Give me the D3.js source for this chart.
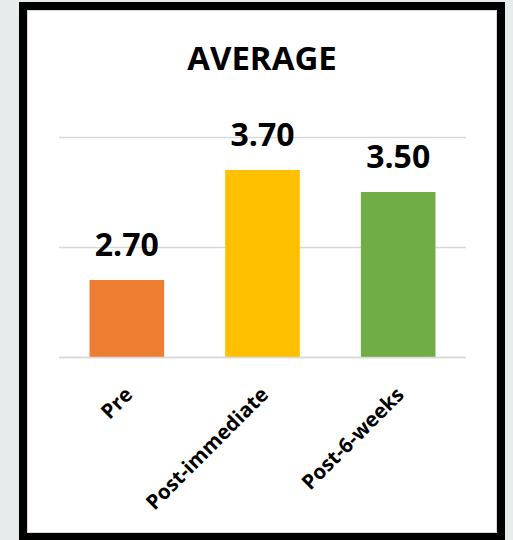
<!DOCTYPE html>
<html>
<head>
<meta charset="utf-8">
<script src="https://cdn.jsdelivr.net/npm/d3@7/dist/d3.min.js"></script>
<style>
  html, body { margin: 0; padding: 0; background: #e7ebec; }
  svg { display: block; }
  text { font-family: "Open Sans", "Noto Sans", sans-serif; font-weight: bold; fill: #000; }
</style>
</head>
<body>
<script>
const title = "AVERAGE";
const categories = ["Pre", "Post-immediate", "Post-6-weeks"];
const values = [2.70, 3.70, 3.50];
const colors = ["#ED7D31", "#FFC000", "#70AD47"];
const yTicks = [2, 3, 4];
const yDomain = [2, 4];

const W = 513, H = 540;
const svg = d3.select("body").append("svg").attr("width", W).attr("height", H);

svg.append("rect").attr("x", 0).attr("y", 0).attr("width", W).attr("height", H).attr("fill", "#e7ebec");
svg.append("rect").attr("x", 19).attr("y", 2).attr("width", 486).attr("height", 560).attr("fill", "#000");
svg.append("rect").attr("x", 27.5).attr("y", 10.5).attr("width", 469).attr("height", 522)
  .attr("fill", "#fff").attr("stroke", "#d9d9d9").attr("stroke-width", 1);

const plot = { left: 59, right: 466, top: 137, bottom: 357 };

const x = d3.scaleBand().domain(categories).range([plot.left, plot.right])
  .paddingInner(0.45).paddingOuter(0.225);
const y = d3.scaleLinear().domain(yDomain).range([plot.bottom, plot.bottom - 220]);

// gridlines
svg.append("g").selectAll("line").data(yTicks).join("line")
  .attr("x1", plot.left).attr("x2", plot.right)
  .attr("y1", d => Math.round(y(d)) + 0.5).attr("y2", d => Math.round(y(d)) + 0.5)
  .attr("stroke", "#d9d9d9").attr("stroke-width", 1.5);

// bars
svg.append("g").selectAll("rect").data(values).join("rect")
  .attr("x", (d, i) => x(categories[i]))
  .attr("width", x.bandwidth())
  .attr("y", d => y(d))
  .attr("height", d => y(yDomain[0]) - y(d))
  .attr("fill", (d, i) => colors[i]);

// baseline redraw over bars
svg.append("line").attr("x1", plot.left).attr("x2", plot.right)
  .attr("y1", Math.round(y(yDomain[0])) + 0.5).attr("y2", Math.round(y(yDomain[0])) + 0.5)
  .attr("stroke", "#d9d9d9").attr("stroke-width", 1.5);

// data labels
svg.append("g").selectAll("text").data(values).join("text")
  .attr("x", (d, i) => x(categories[i]) + x.bandwidth() / 2)
  .attr("y", d => y(d) - 24)
  .attr("text-anchor", "middle")
  .attr("font-size", 32)
  .text(d => d3.format(".2f")(d));

// title
svg.append("text").attr("x", 262).attr("y", 70).attr("text-anchor", "middle")
  .attr("font-size", 33).text(title);

// category axis labels
svg.append("g").selectAll("text").data(categories).join("text")
  .attr("transform", d => `translate(${x(d) + x.bandwidth() / 2 + 7},${plot.bottom + 39}) rotate(-45)`)
  .attr("text-anchor", "end")
  .attr("font-size", 20.5)
  .text(d => d);
</script>
</body>
</html>
